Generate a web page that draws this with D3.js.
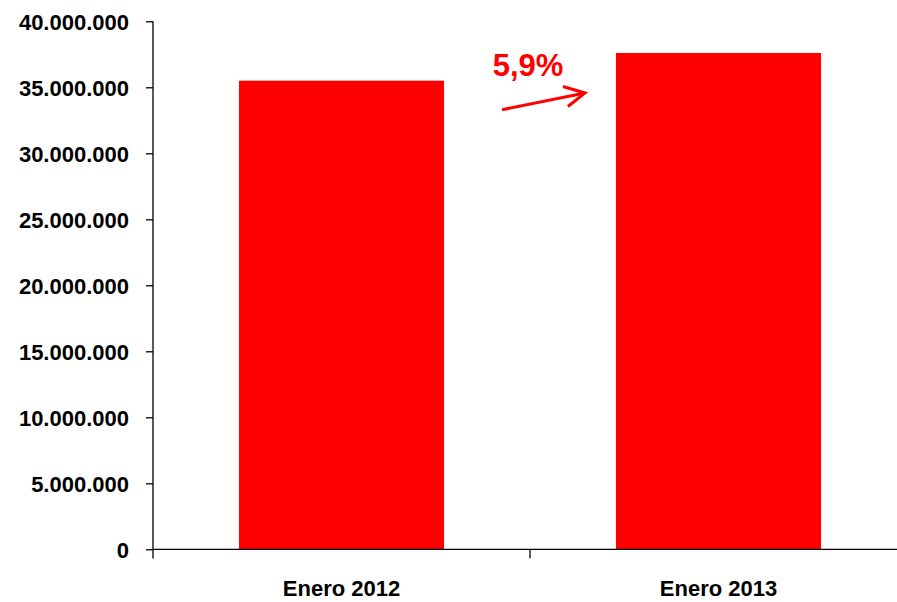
<!DOCTYPE html>
<html>
<head>
<meta charset="utf-8">
<title>Enero 2012 vs Enero 2013</title>
<style>
  body { margin: 0; background: #fff; }
  .axis text { font-family: "Liberation Sans", Arial, sans-serif; font-weight: bold; fill: #000; }
  .axis path, .axis line { stroke: #000; stroke-width: 1.3; }
  .growth { font-family: "Liberation Sans", Arial, sans-serif; font-weight: bold; fill: #ff0000; }
</style>
</head>
<body>
<svg width="897" height="602"></svg>
<script src="https://cdnjs.cloudflare.com/ajax/libs/d3/7.8.5/d3.min.js"></script>
<script>
// data
var categories = ["Enero 2012", "Enero 2013"];
var values = [35500000, 37600000];
var yTicks = [0, 5000000, 10000000, 15000000, 20000000, 25000000, 30000000, 35000000, 40000000];
var growthLabel = "5,9%";

var svg = d3.select("svg");

var x = d3.scaleBand()
    .domain(categories)
    .range([153, 907])
    .paddingInner(0.456)
    .paddingOuter(0.228);

var y = d3.scaleLinear()
    .domain([0, 40000000])
    .range([549.3, 21.3]);

var fmt = function(d) {
  return d === 0 ? "0" : d3.format(",")(d).replace(/,/g, ".");
};

// bars
svg.selectAll(".bar")
  .data(values)
  .enter().append("rect")
    .attr("class", "bar")
    .attr("x", function(d, i) { return x(categories[i]); })
    .attr("width", x.bandwidth())
    .attr("y", function(d) { return y(d); })
    .attr("height", function(d) { return y(0) - y(d); })
    .attr("fill", "#ff0000");

// y axis
var yAxis = svg.append("g")
    .attr("class", "axis")
    .attr("transform", "translate(153,0)")
    .call(d3.axisLeft(y).tickValues(yTicks).tickFormat(fmt).tickSize(7).tickSizeOuter(0).tickPadding(17));
yAxis.selectAll("text").style("font-size", "22px").attr("dy", "0.36em");
yAxis.select(".domain").attr("d", "M0,21.3V558.5");

// x axis: ticks sit between categories
var xAxis = svg.append("g")
    .attr("class", "axis")
    .attr("transform", "translate(0," + y(0) + ")");
xAxis.append("line")
    .attr("x1", 153).attr("x2", 897)
    .attr("y1", 0).attr("y2", 0);
xAxis.selectAll(".sep")
  .data([x.range()[0] + x.step()])
  .enter().append("line")
    .attr("class", "sep")
    .attr("x1", function(d) { return d; })
    .attr("x2", function(d) { return d; })
    .attr("y1", 0).attr("y2", 9);
xAxis.selectAll(".cat")
  .data(categories)
  .enter().append("text")
    .attr("class", "cat")
    .attr("x", function(d) { return x(d) + x.bandwidth() / 2; })
    .attr("y", 47)
    .attr("text-anchor", "middle")
    .style("font-size", "22px")
    .text(function(d) { return d; });

// growth annotation between bars
var gapL = x(categories[0]) + x.bandwidth();
var gapR = x(categories[1]);
var mid = (gapL + gapR) / 2;
var ann = svg.append("g");
ann.append("text")
    .attr("class", "growth")
    .attr("x", mid - 2)
    .attr("y", y(values[1]) + 23)
    .attr("text-anchor", "middle")
    .style("font-size", "31px")
    .text(growthLabel);

var ax1 = gapL + 58, ay1 = y(values[0]) + 29;
var ax2 = gapR - 31, ay2 = y(values[1]) + 40;
ann.append("line")
    .attr("x1", ax1).attr("y1", ay1)
    .attr("x2", ax2).attr("y2", ay2)
    .attr("stroke", "#ff0000").attr("stroke-width", 3);
ann.append("path")
    .attr("d", "M" + (ax2 - 22) + "," + (ay2 - 6.5) + "L" + ax2 + "," + ay2 + "L" + (ax2 - 17) + "," + (ay2 + 13.5))
    .attr("fill", "none")
    .attr("stroke", "#ff0000").attr("stroke-width", 3);
</script>
</body>
</html>
